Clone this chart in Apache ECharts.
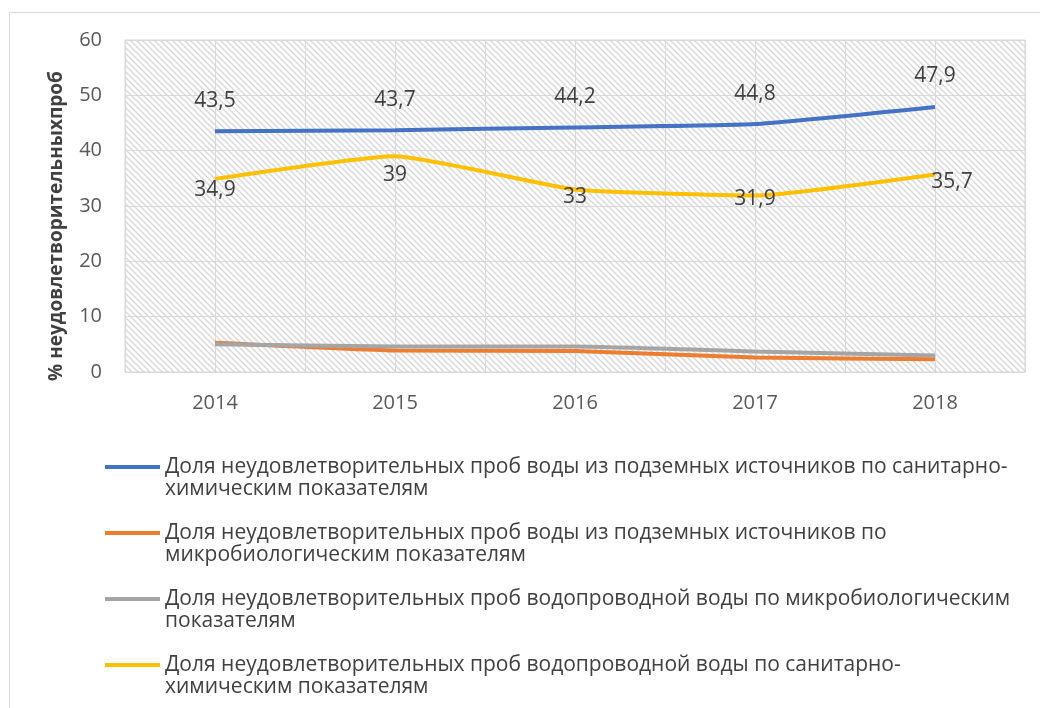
<!DOCTYPE html>
<html>
<head>
<meta charset="utf-8">
<script src="https://cdn.jsdelivr.net/npm/echarts@6/dist/echarts.min.js"></script>
<style>
  html, body { margin: 0; padding: 0; background: #fff; }
  #chart { width: 1040px; height: 708px; }
</style>
</head>
<body>
<div id="chart"></div>
<script>
var years = ['2014', '2015', '2016', '2017', '2018'];

var seriesNames = [
	'Доля неудовлетворительных проб воды из подземных источников по санитарно-химическим показателям',
	'Доля неудовлетворительных проб воды из подземных источников по микробиологическим показателям',
	'Доля неудовлетворительных проб водопроводной воды по микробиологическим показателям',
	'Доля неудовлетворительных проб водопроводной воды по санитарно-химическим показателям'
];

// как в легенде оригинала — перенос строк
var legendLines = [
	'Доля неудовлетворительных проб воды из подземных источников по санитарно-\nхимическим показателям',
	'Доля неудовлетворительных проб воды из подземных источников по\nмикробиологическим показателям',
	'Доля неудовлетворительных проб водопроводной воды по микробиологическим\nпоказателям',
	'Доля неудовлетворительных проб водопроводной воды по санитарно-\nхимическим показателям'
];

var groundChem = [43.5, 43.7, 44.2, 44.8, 47.9];
var groundMicro = [5.3, 3.9, 3.8, 2.6, 2.3];
var tapMicro = [5.0, 4.6, 4.6, 3.7, 3.0];
var tapChem = [34.9, 39, 33, 31.9, 35.7];

var colors = ['#4472C4', '#ED7D31', '#A5A5A5', '#FFC000'];

// сдвиги подписей жёлтой линии [dx, dy]
var tapChemLabelShift = [[0, 1], [0, 8], [0, -3], [0, -7], [17, -3]];

var font = '"Open Sans", sans-serif';

function hatch(){
	var c = document.createElement('canvas');
	c.width = 6;
	c.height = 6;
	var ctx = c.getContext('2d');
	ctx.fillStyle = '#fff';
	ctx.fillRect(0, 0, 6, 6);
	ctx.strokeStyle = '#d9d9d9';
	ctx.lineWidth = 1.5;
	ctx.beginPath();
	ctx.moveTo(-1, -1); ctx.lineTo(7, 7);
	ctx.moveTo(-1, 5); ctx.lineTo(1, 7);
	ctx.moveTo(5, -1); ctx.lineTo(7, 1);
	ctx.stroke();
	return c;
}

var legendIcon = 'path://M0,0 L0.01,0 Z M0,9 L55,9 L55,13 L0,13 Z M0,44 L0.01,44 Z';

function fmt(v){
	return String(v).replace('.', ',');
}

function makeSeries(i, data, labelOpt){
	return {
		name: seriesNames[i],
		type: 'line',
		xAxisIndex: 0,
		data: data,
		smooth: 0.15,
		symbol: 'circle',
		symbolSize: 0.1,
		showSymbol: true,
		lineStyle: { color: colors[i], width: 4 },
		itemStyle: { color: colors[i] },
		label: labelOpt || { show: false },
		z: 3 + i
	};
}

var tapChemData = tapChem.map(function(v, i){
	return {
		value: v,
		label: { offset: tapChemLabelShift[i] }
	};
});

var labelBase = {
	show: true,
	color: '#404040',
	fontFamily: font,
	fontSize: 21,
	formatter: function(p){ return fmt(p.value); }
};

var chart = echarts.init(document.getElementById('chart'));

chart.setOption({
	animation: false,
	textStyle: { fontFamily: font },
	graphic: [{
		type: 'rect',
		left: 7,
		top: 10,
		shape: { width: 1060, height: 720 },
		style: { fill: 'none', stroke: '#d9d9d9', lineWidth: 1 },
		silent: true,
		z: -10
	}],
	grid: {
		left: 125,
		right: 15,
		top: 40,
		bottom: 336,
		show: true,
		backgroundColor: { image: hatch(), repeat: 'repeat' },
		borderColor: '#d9d9d9',
		borderWidth: 1
	},
	xAxis: [{
		type: 'category',
		data: years,
		boundaryGap: true,
		axisLine: { lineStyle: { color: '#d9d9d9', width: 1 } },
		axisTick: { show: false },
		splitLine: { show: false },
		axisLabel: { color: '#595959', fontSize: 20, margin: 21, fontFamily: font }
	}, {
		// вспомогательная ось: вертикальные линии сетки через полкатегории
		type: 'value',
		min: 0,
		max: 10,
		interval: 1,
		position: 'bottom',
		show: true,
		axisLine: { show: false },
		axisTick: { show: false },
		axisLabel: { show: false },
		splitLine: { show: true, lineStyle: { color: '#d9d9d9', width: 1 } }
	}],
	yAxis: {
		type: 'value',
		min: 0,
		max: 60,
		interval: 10,
		name: '% неудовлетворительныхпроб',
		nameLocation: 'middle',
		nameGap: 59,
		nameTextStyle: {
			color: '#404040',
			fontWeight: 'bold',
			fontSize: 19,
			fontFamily: font,
			padding: [0, 40, 0, 0]
		},
		axisLine: { show: false },
		axisTick: { show: false },
		splitLine: { lineStyle: { color: '#d9d9d9', width: 1 } },
		axisLabel: { color: '#595959', fontSize: 20, margin: 23, fontFamily: font }
	},
	legend: {
		orient: 'vertical',
		left: 105,
		top: 456,
		padding: 0,
		itemWidth: 55,
		itemHeight: 44,
		itemGap: 22,
		icon: legendIcon,
		data: seriesNames,
		formatter: function(name){
			return legendLines[seriesNames.indexOf(name)];
		},
		textStyle: {
			color: '#404040',
			fontSize: 21,
			lineHeight: 22,
			fontFamily: font
		}
	},
	series: [
		makeSeries(0, groundChem, Object.assign({}, labelBase, { position: 'top', distance: 20 })),
		makeSeries(1, groundMicro),
		makeSeries(2, tapMicro),
		makeSeries(3, tapChemData, Object.assign({}, labelBase, { position: 'bottom', distance: 0 }))
	]
});
</script>
</body>
</html>
